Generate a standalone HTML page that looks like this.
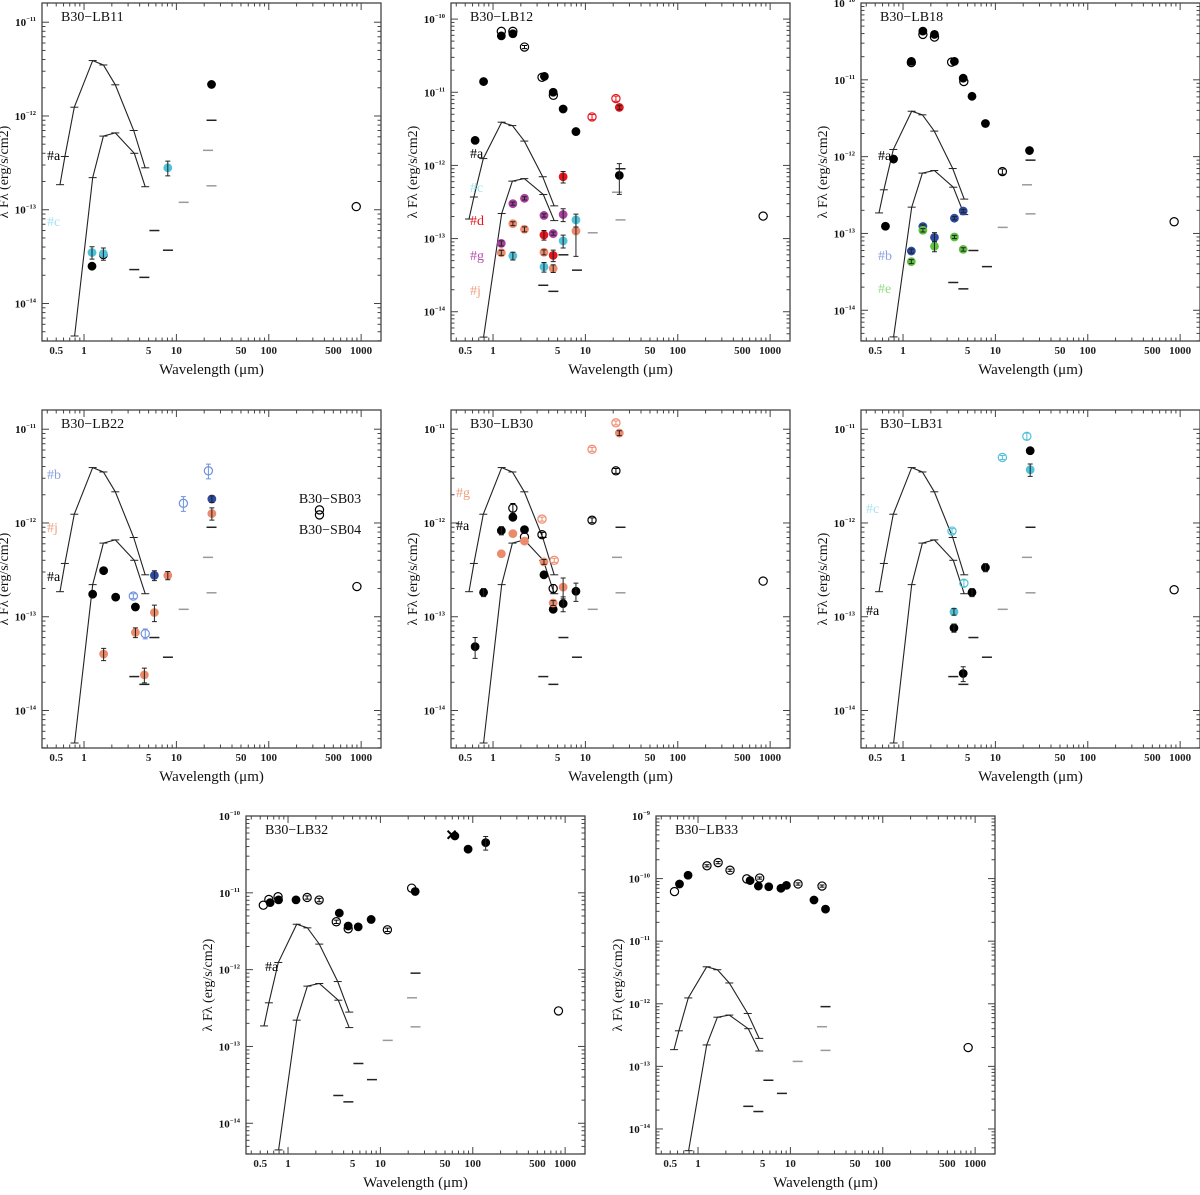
<!DOCTYPE html>
<html><head><meta charset="utf-8"><title>B30 SEDs</title>
<style>
html,body{margin:0;padding:0;background:#fff;}
svg text{font-family:"Liberation Serif",serif;}
</style></head>
<body>
<svg id="fig" xmlns="http://www.w3.org/2000/svg" width="1200" height="1190" viewBox="0 0 1200 1190"></svg>
<script>
// ---- shared model data ----
const modelA_wave = [0.55, 0.62, 0.785, 1.24, 1.62, 2.18, 3.45, 4.6];
const modelA_flux = [1.85e-13, 3.7e-13, 1.24e-12, 3.9e-12, 3.5e-12, 2.15e-12, 7e-13, 2.8e-13];
const modelB_wave = [0.79, 1.24, 1.62, 2.18, 3.5, 4.6];
const modelB_flux = [4.5e-15, 2.2e-13, 6.1e-13, 6.6e-13, 4.0e-13, 1.76e-13];
const dash_wave = [3.5, 4.5, 5.78, 8.1, 12, 24, 22, 24];
const dash_flux = [2.3e-14, 1.9e-14, 6e-14, 3.7e-14, 1.2e-13, 9e-13, 4.3e-13, 1.8e-13];
const dash_gray = [0, 0, 0, 0, 1, 0, 1, 1];

// ---- per-panel photometry ----
const LB11_wave = [24, 8.07, 1.22, 1.62, 1.62, 1.22, 885];
const LB11_flux = [2.17e-12, 2.8e-13, 3.5e-14, 3.3e-14, 3.4e-14, 2.5e-14, 1.08e-13];
const LB11_kind = ['fk','fc','fc','fk','fc','fk','ok'];
const LB11_err  = [0, 0.18, 0.15, 0, 0.15, 0, 0];

const LB12_wave = [0.64, 0.79, 1.23, 1.23, 1.64, 1.64, 2.19, 3.39, 3.6, 4.48, 4.5, 5.74, 7.9, 11.8, 21.4, 23.3, 23.3, 5.74, 1.64, 2.19, 3.56, 4.48, 5.74, 1.23, 1.64, 2.19, 1.23, 3.56, 4.48, 7.9, 3.56, 4.48, 1.64, 3.56, 5.74, 7.9, 840];
const LB12_flux = [2.2e-12, 1.4e-11, 6.8e-11, 5.9e-11, 6.8e-11, 6.3e-11, 4.15e-11, 1.6e-11, 1.65e-11, 1e-11, 9.1e-12, 5.9e-12, 2.9e-12, 4.6e-12, 8.2e-12, 6.2e-12, 7.3e-13, 7e-13, 3e-13, 3.55e-13, 2.07e-13, 1.17e-13, 2.13e-13, 8.6e-14, 1.6e-13, 1.34e-13, 6.4e-14, 6.5e-14, 3.9e-14, 1.27e-13, 1.12e-13, 5.9e-14, 5.8e-14, 4.1e-14, 9.3e-14, 1.8e-13, 2.03e-13];
const LB12_kind = ['fk','fk','ok','fk','ok','fk','ok','ok','fk','fk','ok','fk','fk','or','or','fr','fk','fr','fm','fm','fm','fm','fm','fm','fs','fs','fs','fs','fs','fs','fr','fr','fc','fc','fc','fc','ok'];
const LB12_err  = [0,0,0,0,0,0,0.05,0,0,0,0,0,0,0.08,0.08,0.07,0.45,0.18,0.05,0.05,0.05,0.05,0.2,0.08,0.06,0.08,0.08,0.08,0.12,0.55,0.15,0.18,0.12,0.15,0.2,0.2,0];

const LB18_wave = [0.645, 0.79, 1.23, 1.23, 1.64, 1.64, 2.19, 2.19, 3.36, 3.6, 4.48, 4.55, 5.58, 7.8, 23.4, 11.9, 861, 4.48, 3.6, 1.64, 2.19, 1.23, 1.64, 3.6, 2.19, 4.48, 1.23];
const LB18_flux = [1.24e-13, 9.3e-13, 1.74e-11, 1.68e-11, 4.3e-11, 3.9e-11, 3.9e-11, 3.6e-11, 1.7e-11, 1.74e-11, 1.05e-11, 9.5e-12, 6.1e-12, 2.7e-12, 1.2e-12, 6.4e-13, 1.42e-13, 1.96e-13, 1.58e-13, 1.23e-13, 8.9e-14, 5.9e-14, 1.1e-13, 9e-14, 6.8e-14, 6.2e-14, 4.3e-14];
const LB18_kind = ['fk','fk','fk','ok','fk','ok','fk','ok','ok','fk','fk','ok','fk','fk','fk','ok','ok','fb','fb','fb','fb','fb','fg','fg','fg','fg','fg'];
const LB18_err  = [0,0,0,0,0,0,0,0,0,0,0,0,0,0,0,0.08,0,0.05,0.05,0.05,0.15,0.06,0.05,0.05,0.15,0.05,0.06];

const LB22_wave = [1.24, 1.63, 2.2, 3.6, 3.42, 4.6, 5.78, 8.07, 5.78, 3.6, 1.63, 4.5, 11.9, 22.2, 24.2, 24.2, 900, 354, 354];
const LB22_flux = [1.74e-13, 3.1e-13, 1.62e-13, 1.27e-13, 1.66e-13, 6.6e-14, 2.76e-13, 2.76e-13, 1.11e-13, 6.8e-14, 4e-14, 2.4e-14, 1.62e-12, 3.6e-12, 1.8e-12, 1.26e-12, 2.1e-13, 1.38e-12, 1.22e-12];
const LB22_kind = ['fk','fk','fk','fk','oB','oB','fb','fs','fs','fs','fs','fs','oB','oB','fb','fs','ok','ok','ok'];
const LB22_err  = [0,0,0,0,0.06,0.12,0.12,0.1,0.2,0.12,0.15,0.18,0.18,0.18,0.08,0.15,0,0,0];

const LB30_wave = [0.64, 0.79, 1.23, 1.64, 1.64, 2.19, 2.19, 3.39, 3.56, 4.48, 4.48, 5.74, 7.9, 1.23, 1.64, 2.19, 3.56, 4.48, 5.74, 3.39, 4.6, 11.8, 21.4, 23.3, 21.4, 11.8, 840];
const LB30_flux = [4.8e-14, 1.82e-13, 8.3e-13, 1.15e-12, 1.44e-12, 8.5e-13, 7.1e-13, 7.5e-13, 2.8e-13, 1.2e-13, 2e-13, 1.38e-13, 1.87e-13, 4.7e-13, 7.7e-13, 6.4e-13, 3.85e-13, 1.4e-13, 2.07e-13, 1.1e-12, 4e-13, 6.1e-12, 1.17e-11, 9.1e-12, 3.6e-12, 1.07e-12, 2.4e-13];
const LB30_kind = ['fk','fk','fk','fk','ok','fk','ok','ok','fk','fk','ok','fk','fk','fs','fs','fs','fs','fs','fs','os','os','os','os','fs','ok','ok','ok'];
const LB30_err  = [0.25,0.1,0.1,0,0.12,0,0,0.06,0,0,0.1,0.18,0.22,0,0,0,0.06,0.06,0.25,0.05,0.05,0.05,0.05,0.06,0.06,0.06,0];

const LB31_wave = [21.9, 23.8, 11.9, 23.8, 3.39, 4.56, 7.8, 5.58, 3.56, 3.56, 4.48, 861];
const LB31_flux = [8.4e-12, 5.9e-12, 5e-12, 3.7e-12, 8.2e-13, 2.28e-13, 3.35e-13, 1.82e-13, 1.13e-13, 7.6e-14, 2.48e-14, 1.94e-13];
const LB31_kind = ['oc','fk','oc','fc','oc','oc','fk','fk','fc','fk','fk','ok'];
const LB31_err  = [0.08,0,0.05,0.15,0.06,0.08,0.1,0.1,0.08,0.1,0.18,0];

const LB32_wave = [0.54, 0.62, 0.64, 0.78, 0.79, 1.22, 1.61, 2.17, 3.33, 3.59, 4.48, 4.48, 5.75, 7.94, 11.9, 21.8, 23.8, 64, 89, 138, 847];
const LB32_flux = [6.9e-12, 8.2e-12, 7.45e-12, 8.9e-12, 8.1e-12, 8.1e-12, 8.7e-12, 8.05e-12, 4.2e-12, 5.45e-12, 3.4e-12, 3.7e-12, 3.6e-12, 4.5e-12, 3.3e-12, 1.15e-11, 1.04e-11, 5.5e-11, 3.7e-11, 4.5e-11, 2.9e-13];
const LB32_kind = ['ok','ok','fk','ok','fk','fk','ok','ok','ok','fk','ok','fk','fk','fk','ok','ok','fk','fk','fk','fk','ok'];
const LB32_err  = [0,0,0,0,0,0,0.05,0.05,0.05,0,0,0,0,0,0.05,0,0,0,0,0.2,0];
const LB32_cross_wave = [59];
const LB32_cross_flux = [5.7e-11];

const LB33_wave = [0.556, 0.63, 0.78, 1.25, 1.65, 2.22, 3.37, 3.66, 4.65, 4.5, 5.83, 7.9, 9.06, 12.1, 22, 18, 24, 840];
const LB33_flux = [6.2e-11, 8.2e-11, 1.13e-10, 1.6e-10, 1.8e-10, 1.36e-10, 9.9e-11, 9.3e-11, 1.02e-10, 7.6e-11, 7.4e-11, 7e-11, 7.8e-11, 8.2e-11, 7.6e-11, 4.55e-11, 3.25e-11, 2e-13];
const LB33_kind = ['ok','fk','fk','ok','ok','ok','ok','fk','ok','fk','fk','fk','fk','ok','ok','fk','fk','ok'];
const LB33_err  = [0,0,0,0.04,0.04,0.04,0,0,0.04,0,0,0,0,0.04,0.04,0,0,0];

// ---- styles ----
const COL = {k:'#000000', c:'#4fc1d9', r:'#e8141c', m:'#a8409e', s:'#ec8a6c', b:'#2c4aa0', B:'#6f90e0', g:'#5fbf40'};
const LABCOL = {k:'#000000', c:'#a6e2ef', r:'#e8141c', m:'#b650ae', s:'#f0a080', b:'#8aa0e0', B:'#8aa0e0', g:'#98da84'};

const PANELS = [
  {name:'B30-LB11', L:42,  T:3,   top:-10.795, w:LB11_wave, f:LB11_flux, k:LB11_kind, e:LB11_err, labels:[['#a','k',5,152],['#c','c',5,218]]},
  {name:'B30-LB12', L:451, T:3,   top:-9.78,   w:LB12_wave, f:LB12_flux, k:LB12_kind, e:LB12_err, labels:[['#a','k',19,150],['#c','c',19,184],['#d','r',19,217],['#g','m',19,252],['#j','s',19,287]]},
  {name:'B30-LB18', L:861, T:3,   top:-10.0,   w:LB18_wave, f:LB18_flux, k:LB18_kind, e:LB18_err, labels:[['#a','k',17,152],['#b','B',17,252],['#e','g',17,285]]},
  {name:'B30-LB22', L:42,  T:410, top:-10.795, w:LB22_wave, f:LB22_flux, k:LB22_kind, e:LB22_err, labels:[['#b','B',5,64],['#j','s',5,117],['#a','k',5,166]]},
  {name:'B30-LB30', L:451, T:410, top:-10.795, w:LB30_wave, f:LB30_flux, k:LB30_kind, e:LB30_err, labels:[['#g','s',5,82],['#a','k',5,115]]},
  {name:'B30-LB31', L:861, T:410, top:-10.795, w:LB31_wave, f:LB31_flux, k:LB31_kind, e:LB31_err, labels:[['#c','c',5,98],['#a','k',5,200]]},
  {name:'B30-LB32', L:246, T:816, top:-10.0,   w:LB32_wave, f:LB32_flux, k:LB32_kind, e:LB32_err, labels:[['#a','k',19,150]], cross:true},
  {name:'B30-LB33', L:656, T:816, top:-9.0,    w:LB33_wave, f:LB33_flux, k:LB33_kind, e:LB33_err, labels:[]}
];

const W = 339, H = 338, XMIN = -0.455, XMAX = 3.215, YMIN = -14.4;
const NS = 'http://www.w3.org/2000/svg';
const svg = document.getElementById('fig');

function mk(tag, attrs, parent) {
  const el = document.createElementNS(NS, tag);
  for (const a in attrs) el.setAttribute(a, attrs[a]);
  parent.appendChild(el);
  return el;
}

PANELS.forEach(function(P, pi) {
  const xs = v => P.L + (Math.log10(v) - XMIN) / (XMAX - XMIN) * W;
  const ys = v => P.T + (P.top - Math.log10(v)) / (P.top - YMIN) * H;
  const g = mk('g', {}, svg);
  
  

  const fr = mk('rect', {x:P.L, y:P.T, width:W, height:H, fill:'none', stroke:'#444', 'stroke-width':1.3}, g);
  
  

  const xt = mk('g', {stroke:'#444', 'stroke-width':1}, g);
  
  
  for (let d = -1; d <= 3; d++) {
    for (let m = 1; m <= 9; m++) {
      const v = m * Math.pow(10, d);
      const lv = Math.log10(v);
      if (lv < XMIN || lv > XMAX) continue;
      const x = xs(v);
      const len = (m === 1) ? 7 : 3.5;
      mk('line', {x1:x, y1:P.T+H, x2:x, y2:P.T+H-len}, xt);
      mk('line', {x1:x, y1:P.T, x2:x, y2:P.T+len}, xt);
    }
  }
  const xlabels = ['0.5','1','5','10','50','100','500','1000'];
  xlabels.forEach(function(s) {
    const t = mk('text', {x:xs(parseFloat(s)), y:P.T+H+13, 'font-size':11, 'font-weight':'bold', 'text-anchor':'middle', fill:'#222'}, g);
    t.textContent = s;
    
    
  });
  const xl = mk('text', {x:P.L+W/2, y:P.T+H+33, 'font-size':15, 'text-anchor':'middle', fill:'#111'}, g);
  xl.textContent = 'Wavelength (\u03bcm)';
  
  

  const yt = mk('g', {stroke:'#444', 'stroke-width':1}, g);
  
  
  for (let d = -15; d <= -9; d++) {
    for (let m = 1; m <= 9; m++) {
      const v = m * Math.pow(10, d);
      const lv = Math.log10(v);
      if (lv < YMIN || lv > P.top + 1e-6) continue;
      const y = ys(v);
      const len = (m === 1) ? 7 : 3.5;
      mk('line', {x1:P.L, y1:y, x2:P.L+len, y2:y}, yt);
      mk('line', {x1:P.L+W, y1:y, x2:P.L+W-len, y2:y}, yt);
    }
    if (d >= Math.ceil(YMIN) && d <= P.top + 0.2) {
      const t = mk('text', {x:P.L-6, y:ys(Math.pow(10, d))+4, 'font-size':11, 'text-anchor':'end', fill:'#111', 'font-weight':'bold'}, g);
      
      
      const a = mk('tspan', {}, t); a.textContent = '10';
      const b = mk('tspan', {'font-size':6.5, dy:-5}, t); b.textContent = '\u2212' + (-d);
    }
  }
  const ylx = P.L - 34, yly = P.T + H/2;
  const yl = mk('text', {x:ylx, y:yly, 'font-size':14, 'text-anchor':'middle', fill:'#111', transform:'rotate(-90 '+ylx+' '+yly+')'}, g);
  yl.textContent = '\u03bb F\u03bb (erg/s/cm2)';
  
  

  const tt = mk('text', {x:P.L+19, y:P.T+18, 'font-size':14, fill:'#111'}, g);
  tt.textContent = P.name.replace('-', '\u2212');
  
  

  const cid = 'clip' + pi;
  const cp = mk('clipPath', {id:cid}, g);
  mk('rect', {x:P.L, y:P.T, width:W, height:H}, cp);
  const pg = mk('g', {'clip-path':'url(#'+cid+')'}, g);
  
  

  [[modelA_wave, modelA_flux, 'model-curve-upper'], [modelB_wave, modelB_flux, 'model-curve-lower']].forEach(function(M) {
    const pts = M[0].map((w, i) => xs(w).toFixed(1) + ',' + ys(M[1][i]).toFixed(1)).join(' ');
    const pl = mk('polyline', {points:pts, fill:'none', stroke:'#222', 'stroke-width':1.1}, pg);
    
    
    M[0].forEach(function(w, i) {
      const tk = mk('line', {x1:xs(w)-4, x2:xs(w)+4, y1:ys(M[1][i]), y2:ys(M[1][i]), stroke:'#222', 'stroke-width':1}, pg);
      
      
    });
  });
  dash_wave.forEach(function(w, i) {
    const x = xs(w), y = ys(dash_flux[i]);
    const dl = mk('line', {x1:x-5, x2:x+5, y1:y, y2:y, stroke: dash_gray[i] ? '#9a9a9a' : '#222', 'stroke-width':1.5}, pg);
    
    
  });

  P.w.forEach(function(w, i) {
    const kind = P.k[i], filled = kind[0] === 'f', col = COL[kind[1]];
    const x = xs(w), y = ys(P.f[i]);
    const c = mk('circle', {cx:x, cy:y, r:4.1, fill: filled ? col : 'none', stroke: col, 'stroke-width': filled ? 0.6 : 1.2}, pg);
    
    
    const e = P.e[i];
    if (e > 0) {
      const ecol = filled ? '#222' : col;
      const y1 = ys(P.f[i] * (1 + e)), y2 = ys(P.f[i] * Math.max(0.05, 1 - e));
      const eb = mk('path', {d:'M'+x+','+y1+'V'+y2+'M'+(x-2.5)+','+y1+'H'+(x+2.5)+'M'+(x-2.5)+','+y2+'H'+(x+2.5), stroke:ecol, 'stroke-width':1, fill:'none'}, pg);
      
      
    }
  });
  if (P.cross) {
    LB32_cross_wave.forEach(function(w, i) {
      const x = xs(w), y = ys(LB32_cross_flux[i]);
      const cr = mk('path', {d:'M'+(x-4)+','+(y-4)+'L'+(x+4)+','+(y+4)+'M'+(x-4)+','+(y+4)+'L'+(x+4)+','+(y-4), stroke:'#000', 'stroke-width':2}, pg);
      
      
    });
  }

  P.labels.forEach(function(lb) {
    const t = mk('text', {x:P.L+lb[2], y:P.T+lb[3]+5, 'font-size':14, fill:LABCOL[lb[1]]}, g);
    t.textContent = lb[0];
    
    
  });
  if (P.name === 'B30-LB22') {
    [['B30\u2212SB03', 93], ['B30\u2212SB04', 124]].forEach(function(s) {
      const t = mk('text', {x:P.L+288, y:P.T+s[1], 'font-size':14, 'text-anchor':'middle', fill:'#111'}, g);
      t.textContent = s[0];
      
      
    });
  }
});
</script>
</body></html>
